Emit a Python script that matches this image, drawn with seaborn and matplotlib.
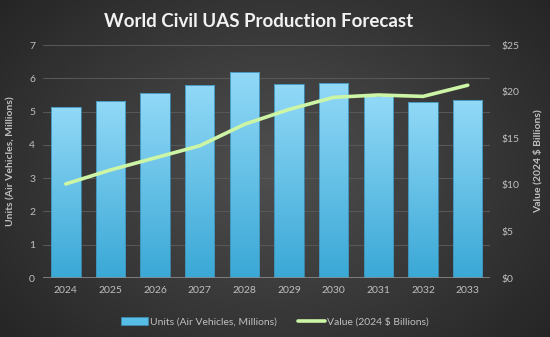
import numpy as np
import pandas as pd
import matplotlib
matplotlib.use("Agg")
import matplotlib.pyplot as plt
import seaborn as sns
from matplotlib.patches import Patch
from matplotlib.lines import Line2D

years = ["2024", "2025", "2026", "2027", "2028", "2029", "2030", "2031", "2032", "2033"]
units = [5.13, 5.33, 5.57, 5.81, 6.18, 5.83, 5.87, 5.47, 5.30, 5.35]
value = [10.1, 11.6, 12.9, 14.2, 16.5, 18.1, 19.4, 19.65, 19.5, 20.7]
left_ticks = [0, 1, 2, 3, 4, 5, 6, 7]
right_ticks = [0, 5, 10, 15, 20, 25]

title = "World Civil UAS Production Forecast"
units_label = "Units (Air Vehicles, Millions)"
value_label = "Value (2024 $ Billions)"

df = pd.DataFrame({"year": years, "units": units, "value": value})

sns.set_theme(style="dark")
plt.rcParams['font.family'] = ['Lato', 'DejaVu Sans']

fig = plt.figure(figsize=(5.5, 3.37), dpi=100)

# radial gradient background
bg = fig.add_axes([0, 0, 1, 1], zorder=-10)
yy, xx = np.mgrid[-1:1:337j, -1:1:550j]
r = np.sqrt((xx * 0.9) ** 2 + (yy * 0.75) ** 2)
c = 0.31 - 0.14 * np.clip(r, 0, 1.3)
img = np.dstack([c, c, c])
bg.imshow(img, aspect='auto', extent=[0, 1, 0, 1])
bg.set_axis_off()

ax = fig.add_axes([0.079, 0.175, 0.812, 0.691])
ax.set_facecolor('none')
sns.barplot(data=df, x="year", y="units", ax=ax, color="#55bde6", width=0.66,
            edgecolor="#3d8fb5", linewidth=0.6, zorder=3)

# gradient fill in bars
grad = np.linspace(0, 1, 256).reshape(-1, 1)
top = np.array([0x92, 0xd9, 0xf7]) / 255
bot = np.array([0x3a, 0xa8, 0xd6]) / 255
gimg = top[None, None, :] * (1 - grad[..., None]) + bot[None, None, :] * grad[..., None]
for p in ax.patches:
    x0, y0 = p.get_x(), p.get_y()
    w, h = p.get_width(), p.get_height()
    im = ax.imshow(gimg, extent=[x0, x0 + w, y0, y0 + h], aspect='auto', zorder=3.5)
    im.set_clip_path(p)
    p.set_facecolor('none')
    p.set_zorder(4)

ax.set_xlim(-0.5, 9.5)
ax.set_ylim(0, 7)
ax.set_yticks(left_ticks)
ax.yaxis.grid(True, color="#575757", linewidth=0.8, zorder=0)
ax.xaxis.grid(False)
for s in ax.spines.values():
    s.set_visible(False)
ax.axhline(0, color="#8a8a8a", linewidth=1.2, zorder=5)
ax.tick_params(colors="#bfbfbf", labelsize=7.5, length=0, pad=6)
ax.set_xlabel("")
ax.set_ylabel(units_label, color="#bfbfbf", fontsize=7.5, fontweight='bold', labelpad=10)

ax2 = ax.twinx()
sns.lineplot(data=df, x="year", y="value", ax=ax2, color="#cdf5a6", linewidth=2.6,
             sort=False, zorder=6)
ax2.set_ylim(0, 25)
ax2.set_yticks(right_ticks)
ax2.set_yticklabels([f"${t}" for t in right_ticks])
for s in ax2.spines.values():
    s.set_visible(False)
ax2.grid(False)
ax2.tick_params(colors="#bfbfbf", labelsize=7.5, length=0, pad=8)
ax2.set_ylabel(value_label, color="#bfbfbf", fontsize=7.5, fontweight='bold', labelpad=10,
               rotation=90)
ax2.set_xlabel("")
ax2.set_xlim(-0.5, 9.5)

fig.text(0.47, 0.935, title, ha='center', va='center', color="#f2f2f2",
         fontsize=13.5, fontweight='bold')

handles = [Patch(facecolor="#55bde6", edgecolor="#3d8fb5", linewidth=0.5),
           Line2D([0], [0], color="#cdf5a6", linewidth=2.6)]
leg = fig.legend(handles, [units_label, value_label], loc='center', bbox_to_anchor=(0.5, 0.045),
                 ncol=2, frameon=False, fontsize=7.5, labelcolor="#bfbfbf",
                 handlelength=2.6, handletextpad=0.2, columnspacing=2.0)

fig.savefig("out.png", dpi=100, facecolor="#333333")
